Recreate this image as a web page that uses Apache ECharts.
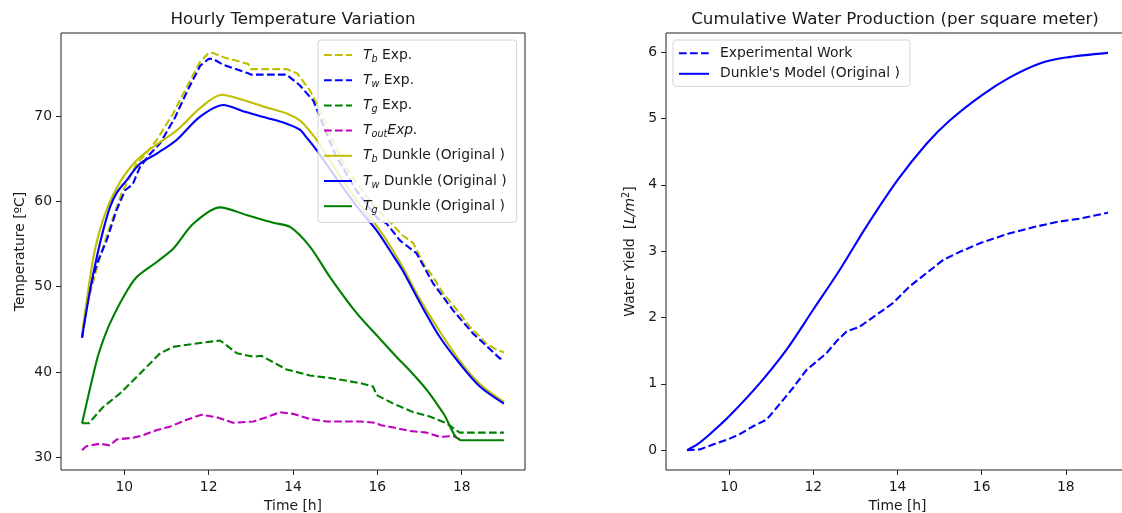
<!DOCTYPE html>
<html><head><meta charset="utf-8">
<script src="https://cdn.jsdelivr.net/npm/echarts@6/dist/echarts.min.js"></script>
<style>html,body{margin:0;padding:0;background:#fff}#c{width:1122px;height:513px}</style>
</head><body><div id="c"></div><script>
// ---------- Data ----------
const xTicks = [10, 12, 14, 16, 18];
const tempTicks = [30, 40, 50, 60, 70];
const yieldTicks = [0, 1, 2, 3, 4, 5, 6];

const tbExpT = [9.0, 9.1, 9.27, 9.5, 9.74, 9.94, 10.1, 10.29, 10.5, 10.77, 11.16, 11.48, 11.79, 12.0, 12.1, 12.35, 12.94, 13.0, 13.85, 14.1, 14.4, 14.64, 15.0, 15.25, 15.5, 15.75, 16.0, 16.3, 16.6, 16.85, 17.09, 17.3, 17.56, 17.8, 17.95, 18.19, 18.4, 18.59, 18.8, 19.0];
const tbExpV = [44.0, 47.5, 50.8, 54.7, 58.2, 61.0, 62.5, 64.4, 65.5, 67.2, 70.3, 73.4, 76.3, 77.4, 77.4, 76.9, 76.1, 75.5, 75.5, 75.0, 73.0, 70.7, 66.5, 64.0, 62.2, 60.5, 59.0, 57.6, 56.0, 55.1, 52.7, 51.3, 49.2, 47.8, 46.9, 45.3, 44.3, 43.3, 42.7, 42.3];

const twExpT = [9.0, 9.15, 9.35, 9.58, 9.82, 10.02, 10.2, 10.37, 10.6, 10.85, 11.2, 11.5, 11.8, 12.0, 12.1, 12.35, 12.94, 13.0, 13.85, 14.16, 14.48, 15.0, 15.5, 16.0, 16.22, 16.54, 16.93, 17.32, 17.8, 18.27, 18.6, 18.9, 19.0];
const twExpV = [44.0, 49.2, 52.7, 55.4, 59.0, 61.3, 62.0, 64.0, 65.5, 66.8, 69.8, 73.0, 75.9, 76.7, 76.7, 76.0, 75.0, 74.85, 74.85, 73.6, 71.8, 65.5, 61.3, 58.0, 57.4, 55.4, 53.9, 50.4, 47.2, 44.5, 43.0, 41.6, 41.5];

const tgExpT = [9.0, 9.16, 9.5, 9.9, 10.37, 10.85, 11.16, 11.64, 12.27, 12.67, 13.06, 13.25, 13.85, 14.4, 14.95, 15.59, 15.9, 15.98, 16.38, 16.85, 17.24, 17.64, 17.95, 18.0, 19.0];
const tgExpV = [34.0, 34.0, 35.9, 37.5, 39.8, 42.2, 42.95, 43.3, 43.7, 42.2, 41.8, 41.9, 40.3, 39.6, 39.25, 38.7, 38.3, 37.3, 36.3, 35.3, 34.8, 34.0, 32.9, 32.9, 32.9];

const toutExpT = [9.0, 9.1, 9.42, 9.66, 9.82, 10.21, 10.45, 10.77, 11.08, 11.48, 11.83, 12.19, 12.58, 13.06, 13.37, 13.69, 14.0, 14.4, 14.8, 15.59, 15.98, 16.06, 16.38, 16.77, 17.17, 17.48, 17.8, 18.0];
const toutExpV = [30.85, 31.3, 31.6, 31.4, 32.1, 32.3, 32.6, 33.2, 33.6, 34.4, 35.0, 34.7, 34.05, 34.2, 34.7, 35.3, 35.1, 34.5, 34.2, 34.2, 34.05, 33.8, 33.5, 33.1, 32.9, 32.4, 32.5, 32.0];

const tbDunT = [9.0, 9.11, 9.27, 9.42, 9.58, 9.74, 9.98, 10.29, 10.69, 11.24, 11.79, 12.31, 12.8, 13.37, 13.85, 14.16, 14.32, 14.56, 15.0, 15.5, 16.0, 16.3, 16.6, 17.0, 17.5, 18.0, 18.43, 19.0];
const tbDunV = [44.5, 48.4, 53.5, 56.6, 59.0, 60.8, 62.9, 64.8, 66.4, 68.3, 70.9, 72.5, 71.9, 71.0, 70.3, 69.5, 68.7, 67.2, 63.8, 60.2, 57.0, 54.8, 52.3, 48.6, 44.6, 41.0, 38.6, 36.5];

const twDunT = [9.0, 9.19, 9.35, 9.5, 9.66, 9.82, 10.06, 10.37, 10.77, 11.24, 11.79, 12.35, 12.8, 13.37, 13.85, 14.16, 14.32, 14.56, 15.0, 15.5, 15.98, 16.29, 16.6, 17.0, 17.48, 17.95, 18.43, 19.0];
const twDunV = [44.1, 49.6, 53.5, 56.6, 59.3, 61.0, 62.5, 64.4, 65.6, 67.2, 69.9, 71.3, 70.6, 69.8, 69.1, 68.4, 67.5, 66.0, 62.9, 59.5, 56.6, 54.3, 51.9, 48.2, 44.1, 41.0, 38.3, 36.3];

const tgDunT = [9.0, 9.35, 9.5, 9.66, 9.98, 10.29, 10.77, 11.17, 11.64, 12.27, 12.9, 13.53, 13.93, 14.4, 14.88, 15.51, 16.06, 16.45, 16.8, 17.17, 17.56, 18.0, 19.0];
const tgDunV = [34.0, 41.4, 43.7, 45.7, 48.8, 51.1, 52.9, 54.5, 57.4, 59.3, 58.4, 57.5, 57.0, 54.7, 51.1, 46.9, 43.9, 41.8, 40.0, 37.9, 35.2, 32.0, 32.0];

const yieldExpT = [9.0, 9.3, 9.62, 10.0, 10.25, 10.57, 10.89, 11.09, 11.52, 11.84, 12.31, 12.55, 12.79, 13.1, 13.5, 13.9, 14.29, 14.69, 15.09, 15.48, 16.0, 16.67, 17.22, 17.78, 18.33, 19.0];
const yieldExpV = [0, 0.01, 0.085, 0.17, 0.24, 0.36, 0.46, 0.61, 0.94, 1.21, 1.46, 1.64, 1.79, 1.86, 2.04, 2.22, 2.47, 2.67, 2.87, 2.99, 3.13, 3.27, 3.36, 3.44, 3.49, 3.58];

const yieldDunT = [9.0, 9.25, 9.54, 10.0, 10.73, 11.36, 12.0, 12.63, 13.26, 14.0, 14.69, 15.24, 16.0, 16.67, 17.38, 18.0, 19.0];
const yieldDunV = [0, 0.09, 0.24, 0.51, 1.01, 1.51, 2.12, 2.72, 3.37, 4.07, 4.62, 4.97, 5.35, 5.62, 5.83, 5.92, 5.99];

// ---------- Chart ----------
const FONT = 'DejaVu Sans';
const TXT = '#1a1a1a';
const FS = 13.9;
const zip = (a, b) => a.map((v, i) => [v, b[i]]);
const DASH = [7.7, 3.3];
const LW = 2.1;
const C = { y: '#bfbf00', b: '#0000ff', g: '#008000', m: '#bf00bf' };

function line(name, t, v, color, dashed, xi, smooth) {
  return {
    type: 'line', name, data: zip(t, v), xAxisIndex: xi, yAxisIndex: xi,
    symbol: 'none', smooth: smooth ? 0.3 : false, silent: true,
    lineStyle: { color, width: LW, type: dashed ? DASH : 'solid' },
    itemStyle: { color }
  };
}

const legendLabels = {
  'Tb Exp.': '{it|T}{sub|b}{n| Exp.}',
  'Tw Exp.': '{it|T}{sub|w}{n| Exp.}',
  'Tg Exp.': '{it|T}{sub|g}{n| Exp.}',
  'Tout Exp.': '{it|T}{sub|out}{it|Exp.}',
  'Tb Dunkle': '{it|T}{sub|b}{n| Dunkle (Original )}',
  'Tw Dunkle': '{it|T}{sub|w}{n| Dunkle (Original )}',
  'Tg Dunkle': '{it|T}{sub|g}{n| Dunkle (Original )}'
};
const rich = {
  n: { fontFamily: FONT, fontSize: FS, color: TXT, lineHeight: 18 },
  it: { fontFamily: FONT, fontSize: FS, color: TXT, fontStyle: 'italic', lineHeight: 18 },
  sub: { fontFamily: FONT, fontSize: 9.7, color: TXT, fontStyle: 'italic', lineHeight: 10, verticalAlign: 'bottom' },
  sup: { fontFamily: FONT, fontSize: 9.7, color: TXT, lineHeight: 10, verticalAlign: 'top' }
};

function xAxis(gi) {
  return {
    type: 'value', gridIndex: gi, min: 8.5, max: 19.5, position: 'bottom',
    name: 'Time [h]', nameLocation: 'middle', nameGap: 29,
    nameTextStyle: { fontFamily: FONT, fontSize: FS, color: TXT },
    axisLine: { show: false, onZero: false },
    axisTick: { show: true, inside: false, length: 4.9, customValues: xTicks, lineStyle: { color: '#222', width: 1 } },
    axisLabel: { customValues: xTicks, margin: 10, fontFamily: FONT, fontSize: FS, color: TXT },
    splitLine: { show: false }
  };
}

const option = {
  animation: false,
  backgroundColor: '#fff',
  title: [
    { text: 'Hourly Temperature Variation', left: 293, top: 11, textAlign: 'center', padding: 0,
      textStyle: { fontFamily: FONT, fontSize: 16.7, fontWeight: 'normal', color: TXT } },
    { text: 'Cumulative Water Production (per square meter)', left: 895, top: 11, textAlign: 'center', padding: 0,
      textStyle: { fontFamily: FONT, fontSize: 16.7, fontWeight: 'normal', color: TXT } }
  ],
  grid: [
    { left: 61, top: 33, width: 464, height: 437, show: true, borderColor: '#222', borderWidth: 1,
      backgroundColor: 'transparent', outerBoundsMode: 'none', containLabel: false },
    { left: 666, top: 33, width: 463, height: 437, show: true, borderColor: '#222', borderWidth: 1,
      backgroundColor: 'transparent', outerBoundsMode: 'none', containLabel: false }
  ],
  xAxis: [xAxis(0), xAxis(1)],
  yAxis: [
    { type: 'value', gridIndex: 0, min: 28.52, max: 79.73,
      name: 'Temperature [ºC]', nameLocation: 'middle', nameGap: 34,
      nameTextStyle: { fontFamily: FONT, fontSize: FS, color: TXT },
      axisLine: { show: false, onZero: false },
      axisTick: { show: true, length: 4.9, customValues: tempTicks, lineStyle: { color: '#222' } },
      axisLabel: { customValues: tempTicks, margin: 9, fontFamily: FONT, fontSize: FS, color: TXT },
      splitLine: { show: false } },
    { type: 'value', gridIndex: 1, min: -0.2995, max: 6.2895,
      name: '{n|Water Yield  [}{it|L/m}{sup|2}{n|]}', nameLocation: 'middle', nameGap: 27,
      nameTextStyle: { fontFamily: FONT, fontSize: FS, color: TXT, rich },
      axisLine: { show: false, onZero: false },
      axisTick: { show: true, length: 4.9, customValues: yieldTicks, lineStyle: { color: '#222' } },
      axisLabel: { customValues: yieldTicks, margin: 9, fontFamily: FONT, fontSize: FS, color: TXT },
      splitLine: { show: false } }
  ],
  legend: [
    { orient: 'vertical', left: 318, top: 40, itemWidth: 28, itemHeight: 14, itemGap: 9.2,
      padding: [8, 10, 7.2, 5], backgroundColor: 'rgba(255,255,255,0.8)',
      borderColor: '#d5d5d5', borderWidth: 1, borderRadius: 3,
      itemStyle: { opacity: 0 },
      data: Object.keys(legendLabels),
      formatter: (name) => legendLabels[name],
      textStyle: { fontFamily: FONT, fontSize: FS, color: TXT, padding: [0, 0, 0, 6], rich } },
    { orient: 'vertical', left: 673, top: 40, itemWidth: 30, itemHeight: 14, itemGap: 6.6,
      padding: [6.2, 10, 5.5, 5], backgroundColor: 'rgba(255,255,255,0.8)',
      borderColor: '#d5d5d5', borderWidth: 1, borderRadius: 3,
      itemStyle: { opacity: 0 },
      data: ['Experimental Work', "Dunkle's Model (Original )"],
      textStyle: { fontFamily: FONT, fontSize: FS, color: TXT, lineHeight: 14, padding: [0, 0, 0, 6] } }
  ],
  series: [
    line('Tb Exp.', tbExpT, tbExpV, C.y, true, 0, false),
    line('Tw Exp.', twExpT, twExpV, C.b, true, 0, false),
    line('Tg Exp.', tgExpT, tgExpV, C.g, true, 0, false),
    line('Tout Exp.', toutExpT, toutExpV, C.m, true, 0, false),
    line('Tb Dunkle', tbDunT, tbDunV, C.y, false, 0, true),
    line('Tw Dunkle', twDunT, twDunV, C.b, false, 0, true),
    line('Tg Dunkle', tgDunT, tgDunV, C.g, false, 0, true),
    line('Experimental Work', yieldExpT, yieldExpV, C.b, true, 1, false),
    line("Dunkle's Model (Original )", yieldDunT, yieldDunV, C.b, false, 1, true)
  ]
};
const chart = echarts.init(document.getElementById('c'), null, { renderer: 'canvas' });
chart.setOption(option);
</script></body></html>
